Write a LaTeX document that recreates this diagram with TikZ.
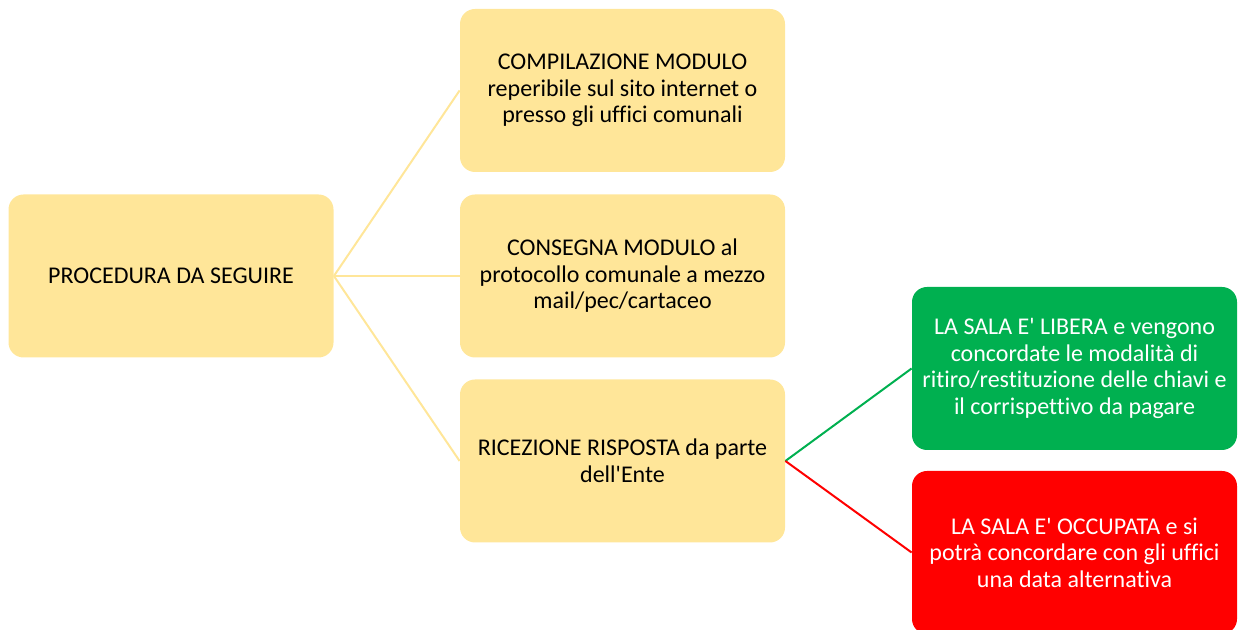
\documentclass[tikz,border=0pt]{standalone}
\usepackage{fontspec}
\setmainfont{Carlito}[Ligatures=NoCommon]
\definecolor{giallo}{HTML}{FFE699}
\definecolor{verde}{HTML}{00B050}
\definecolor{rosso}{HTML}{FF0000}
\newcommand{\apos}{\textquotesingle}
\tikzset{
  casella/.style={rectangle, rounded corners=7.5pt, minimum width=162.5pt,
    minimum height=81.5pt, inner sep=0pt, align=center,
    font=\fontsize{12}{13.3}\selectfont},
  ramo/.style={line width=1pt, color=#1},
}
\begin{document}
\begin{tikzpicture}[x=1pt,y=1pt]
\useasboundingbox (0,0) rectangle (621,315);

% Nodo di partenza
\node[casella, fill=giallo] (proc) at (85.5,177) {PROCEDURA DA SEGUIRE};

% I tre passaggi
\foreach \y/\nome/\testo in {
    269.75/comp/{COMPILAZIONE MODULO\\reperibile sul sito internet o\\presso gli uffici comunali},
    177/cons/{CONSEGNA MODULO al\\protocollo comunale a mezzo\\mail/pec/cartaceo},
    84.5/ric/{RICEZIONE RISPOSTA da parte\\dell\apos Ente}} {
  \node[casella, fill=giallo] (\nome) at (311.25,\y) {\testo};
  \draw[ramo=giallo] (proc.east) -- (\nome.west);
}

% Esiti della risposta
\node[casella, fill=verde, text=white] (libera) at (537.25,130.75)
  {LA SALA E\apos{} LIBERA e vengono\\concordate le modalità di\\ritiro/restituzione delle chiavi e\\il corrispettivo da pagare};
\node[casella, fill=rosso, text=white] (occupata) at (537.25,38.75)
  {LA SALA E\apos{} OCCUPATA e si\\potrà concordare con gli uffici\\una data alternativa};

\draw[ramo=verde] (ric.east) -- (libera.west);
\draw[ramo=rosso] (ric.east) -- (occupata.west);
\end{tikzpicture}
\end{document}
